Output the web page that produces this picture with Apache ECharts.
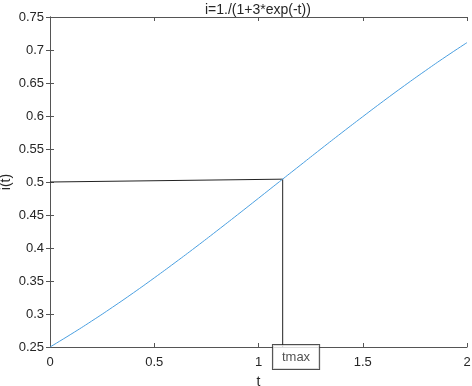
<!DOCTYPE html>
<html><head><meta charset="utf-8">
<script src="https://cdn.jsdelivr.net/npm/echarts@6/dist/echarts.min.js"></script>
<style>html,body{margin:0;padding:0;background:#fff}#c{width:472px;height:386px}</style>
</head><body><div id="c"></div>
<script>
const titleText = 'i=1./(1+3*exp(-t))';
const xName = 't';
const yName = 'i(t)';
const tValues = [0,0.1,0.2,0.3,0.4,0.5,0.6,0.7,0.8,0.9,1.0,1.1,1.2,1.3,1.4,1.5,1.6,1.7,1.8,1.9,2.0];
const iValues = [0.2500,0.2692,0.2893,0.3103,0.3321,0.3547,0.3779,0.4016,0.4259,0.4505,0.4754,0.5004,0.5253,0.5502,0.5748,0.5990,0.6228,0.6460,0.6685,0.6903,0.7112];
const guideT = [0, 1.116, 1.116];
const guideI = [0.5, 0.5043, 0.25];
const labelT = [1.18];
const labelI = [0.25];
const labelText = 'tmax';

const font = 'Liberation Sans, Arial, Helvetica, sans-serif';
const txt = '#262626';
const axc = '#555';
const chart = echarts.init(document.getElementById('c'));
const axisCommon = {
  axisLine:{show:true,lineStyle:{color:axc,width:1}},
  axisTick:{show:true,inside:true,length:4,lineStyle:{color:axc}},
  splitLine:{show:false}
};
chart.setOption({
  animation:false,
  title:{text:titleText,left:200,top:-2,padding:5,
    textStyle:{fontFamily:font,fontSize:14,fontWeight:'normal',color:txt}},
  grid:{left:50,right:5,top:17,bottom:39,containLabel:false,outerBoundsMode:'none'},
  xAxis:[
    Object.assign({type:'value',min:0,max:2,interval:0.5,position:'bottom',
      name:xName,nameLocation:'middle',nameGap:28,nameMoveOverlap:false,
      nameTextStyle:{fontFamily:font,fontSize:14,color:txt},
      axisLabel:{fontFamily:font,fontSize:13,color:txt,margin:9}},axisCommon),
    Object.assign({type:'value',min:0,max:2,interval:0.5,position:'top',
      axisLabel:{show:false}},axisCommon)
  ],
  yAxis:[
    Object.assign({type:'value',min:0.25,max:0.75,interval:0.05,position:'left',
      name:yName,nameLocation:'middle',nameGap:37,nameMoveOverlap:false,
      nameTextStyle:{fontFamily:font,fontSize:14,color:txt},
      axisLabel:{fontFamily:font,fontSize:13,color:txt,margin:6,
        formatter:v=>String(parseFloat(v.toFixed(2)))}},axisCommon),
    Object.assign({type:'value',min:0.25,max:0.75,interval:0.05,position:'right',
      axisLabel:{show:false}},axisCommon)
  ],
  series:[
    {type:'line',data:tValues.map((t,k)=>[t,iValues[k]]),showSymbol:false,smooth:true,
      lineStyle:{color:'#4a9fe0',width:1},z:3},
    {type:'line',data:guideT.map((t,k)=>[t,guideI[k]]),showSymbol:false,
      lineStyle:{color:'#222',width:1},z:2},
    {type:'scatter',data:labelT.map((t,k)=>[t,labelI[k]]),symbolSize:0,z:10,
      label:{show:true,formatter:labelText,position:'inside',offset:[0,10],
        fontFamily:font,fontSize:13,color:txt,backgroundColor:'#fff',
        borderColor:'#222',borderWidth:1,padding:[5,9,6,9]}}
  ]
});
</script></body></html>
